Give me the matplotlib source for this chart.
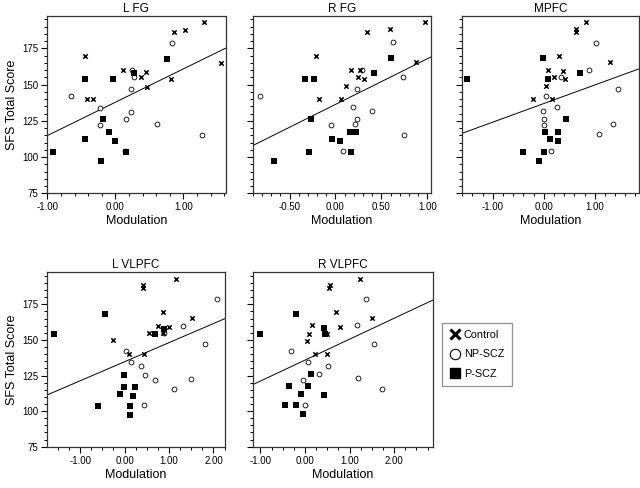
import matplotlib
matplotlib.use("Agg")
import matplotlib.pyplot as plt
from matplotlib.lines import Line2D
from matplotlib.ticker import MultipleLocator, FormatStrFormatter

plt.rcParams['font.family'] = ['Liberation Sans', 'DejaVu Sans']
plt.rcParams['axes.unicode_minus'] = False

TITLES = ["L FG", "R FG", "MPFC", "L VLPFC", "R VLPFC"]
GROUPS = ["Control", "NP-SCZ", "P-SCZ"]

# ---- L FG ----
LFG_ctrl_x = [1.30, 1.02, 0.86, -0.45, 0.12, 0.45, 0.38, 0.82, 0.46, -0.41, -0.33, 1.55]
LFG_ctrl_y = [193, 187.6, 186.3, 170, 160, 159, 155, 154, 148.6, 139.8, 139.8, 165]
LFG_np_x = [0.84, -0.65, 0.23, -0.22, -0.23, 0.16, 0.23, 0.61, 1.28, 0.14, 0.25, 0.28]
LFG_np_y = [178.9, 142.4, 147.2, 134.1, 121.9, 126.3, 130.9, 123, 115.2, 104.4, 160.2, 155]
LFG_p_x = [0.76, 0.27, -0.44, -0.035, -0.18, -0.09, -0.01, -0.45, 0.16, -0.91, -0.21]
LFG_p_y = [167.9, 158, 154.1, 154.1, 126, 117.1, 111.3, 112.2, 103.3, 103.3, 97.3]

# ---- R FG ----
RFG_ctrl_x = [0.345, 0.59, -0.215, 0.164, 0.27, 0.247, 0.316, 0.12, -0.18, 0.055, 0.88, 0.98]
RFG_ctrl_y = [186.3, 188.3, 170, 159.8, 160.3, 155, 154, 149.3, 140.3, 140.3, 165.6, 193]
RFG_np_x = [-0.825, 0.63, 0.73, 0.23, 0.19, 0.40, 0.23, 0.21, -0.044, 0.29, 0.084, 0.745]
RFG_np_y = [142.4, 179.4, 155, 147.2, 134.3, 131.6, 126.3, 123, 122.1, 160.3, 104.4, 115.2]
RFG_p_x = [0.607, 0.418, -0.335, -0.23, -0.27, 0.16, 0.225, -0.036, 0.05, -0.29, 0.17, -0.665]
RFG_p_y = [168.6, 158.2, 154.1, 154.1, 126.3, 117.3, 117.3, 112.2, 111.3, 103.3, 103.3, 97.3]

# ---- MPFC ----
MPFC_ctrl_x = [0.82, 0.64, 0.64, 0.30, 1.30, 0.085, 0.38, 0.197, 0.41, 0.052, -0.21, 0.164]
MPFC_ctrl_y = [193.2, 188.1, 186.5, 170, 165.6, 160, 159.6, 155, 154.1, 149.3, 140.3, 140.3]
MPFC_np_x = [1.02, 0.89, 0.34, 1.46, 0.052, 0.25, -0.013, 0.013, 0.013, 1.36, 1.09, 0.144]
MPFC_np_y = [178.9, 160, 155, 147.2, 142.4, 134.3, 131.6, 126.3, 122.1, 123, 115.7, 104.4]
MPFC_p_x = [-0.013, 0.71, 0.08, -1.51, 0.44, 0.033, 0.28, 0.118, 0.27, -0.40, 0.013, -0.085]
MPFC_p_y = [168.6, 158.2, 154.1, 154.1, 126.3, 117.3, 117.3, 112.7, 111.3, 103.7, 103.7, 97.3]

# ---- L VLPFC ----
LVL_ctrl_x = [1.15, 0.42, 0.42, 0.87, 1.52, 0.75, 1.01, 0.55, 0.87, -0.26, 0.09, 0.435]
LVL_ctrl_y = [193.1, 188.3, 186.4, 169.9, 165.2, 160.1, 159.2, 154.8, 154.8, 149.7, 140.1, 140.1]
LVL_np_x = [2.09, 1.31, 0.885, 1.80, 0.03, 0.135, 0.375, 0.45, 0.675, 1.49, 1.11, 0.435]
LVL_np_y = [178.5, 160.1, 155, 147.1, 142.4, 134.3, 131.5, 125.7, 122.2, 122.9, 115.2, 104.3]
LVL_p_x = [-1.59, -0.45, -0.59, -0.02, -0.02, -0.11, 0.23, 0.19, 0.12, 0.12, 0.675, 0.885]
LVL_p_y = [154.3, 168.5, 103.4, 125.7, 116.9, 112.2, 116.9, 110.8, 103.4, 97.3, 154.3, 157.8]

# ---- R VLPFC ----
RVL_ctrl_x = [1.23, 0.57, 0.545, 0.70, 1.50, 0.157, 0.78, 0.09, 0.50, 0.05, 0.216, 0.50]
RVL_ctrl_y = [192.9, 188.3, 186.2, 169.9, 165.2, 160.3, 159.2, 154.5, 154.3, 149.4, 140.1, 140.1]
RVL_np_x = [1.37, 1.16, 1.56, -0.31, 0.075, 0.51, 0.31, -0.04, 1.20, 1.72, 0.0]
RVL_np_y = [179, 160.3, 147.3, 142.4, 134.3, 131.5, 126.2, 122.2, 123.4, 115.2, 104.3]
RVL_p_x = [-0.20, -1.0, 0.425, 0.455, 0.127, -0.36, 0.075, -0.09, 0.42, -0.455, -0.20, -0.05]
RVL_p_y = [168.5, 154.3, 158.3, 154.3, 126.2, 117.6, 117.6, 112.2, 111.5, 104.1, 104.1, 98]

FIT_INTERCEPT = [137.8, 136.3, 136.9, 134.7, 135.8]
FIT_SLOPE = [23.0, 31.5, 12.8, 13.4, 14.7]

PANELS = [
    (LFG_ctrl_x, LFG_ctrl_y, LFG_np_x, LFG_np_y, LFG_p_x, LFG_p_y),
    (RFG_ctrl_x, RFG_ctrl_y, RFG_np_x, RFG_np_y, RFG_p_x, RFG_p_y),
    (MPFC_ctrl_x, MPFC_ctrl_y, MPFC_np_x, MPFC_np_y, MPFC_p_x, MPFC_p_y),
    (LVL_ctrl_x, LVL_ctrl_y, LVL_np_x, LVL_np_y, LVL_p_x, LVL_p_y),
    (RVL_ctrl_x, RVL_ctrl_y, RVL_np_x, RVL_np_y, RVL_p_x, RVL_p_y),
]

XLIMS = [(-1.0, 1.62), (-0.90, 1.04), (-1.60, 1.86), (-1.74, 2.26), (-1.17, 2.88)]
XMAJOR = [1.0, 0.5, 1.0, 1.0, 1.0]
XMINOR = [0.2, 0.1, 0.2, 0.25, 0.25]
YLIM = (75, 197.5)

W, H = 640, 488
# pixel boxes: left, top, right, bottom
BOXES = [
    (47.3, 15.7, 225.5, 193.3),
    (252.8, 15.7, 431.0, 193.3),
    (462.3, 15.7, 638.5, 193.3),
    (47.3, 272.3, 225.0, 446.7),
    (252.8, 272.3, 433.3, 446.7),
]

fig = plt.figure(figsize=(6.4, 4.88), dpi=100)

for i, (cx, cy, nx, ny, px, py) in enumerate(PANELS):
    l, t, r, b = BOXES[i]
    ax = fig.add_axes([l / W, 1 - b / H, (r - l) / W, (b - t) / H])
    ax.set_xlim(*XLIMS[i])
    ax.set_ylim(*YLIM)
    xs = list(XLIMS[i])
    ax.plot(xs, [FIT_INTERCEPT[i] + FIT_SLOPE[i] * x for x in xs], color='black', lw=0.7, zorder=1)
    ax.scatter(nx, ny, marker='o', s=12, facecolors='white', edgecolors='black', linewidths=0.6, zorder=2)
    ax.scatter(px, py, marker='s', s=14, c='black', linewidths=0, zorder=3)
    ax.scatter(cx, cy, marker='x', s=10, c='black', linewidths=1.1, zorder=4)

    ax.xaxis.set_major_locator(MultipleLocator(XMAJOR[i]))
    ax.xaxis.set_minor_locator(MultipleLocator(XMINOR[i]))
    ax.xaxis.set_major_formatter(FormatStrFormatter('%.2f'))
    ax.yaxis.set_major_locator(MultipleLocator(25))
    ax.yaxis.set_minor_locator(MultipleLocator(5))
    ax.tick_params(which='major', direction='out', length=4.5, width=0.8, labelsize=7, pad=2)
    ax.tick_params(which='minor', direction='out', length=2, width=0.7)
    ax.tick_params(top=False, right=False)
    for s in ax.spines.values():
        s.set_linewidth(0.9)
        s.set_color('#333333')
    ax.set_title(TITLES[i], fontsize=8.5, pad=3)
    ax.set_xlabel("Modulation", fontsize=9, labelpad=2)
    if i in (0, 3):
        ax.set_ylabel("SFS Total Score", fontsize=9, labelpad=3)
    else:
        ax.tick_params(labelleft=False)

handles = [
    Line2D([], [], marker='x', color='black', ls='', ms=7, mew=2.2),
    Line2D([], [], marker='o', color='black', ls='', ms=7.5, mfc='white', mew=0.8),
    Line2D([], [], marker='s', color='black', ls='', ms=7.5),
]
leg = fig.legend(handles, GROUPS, loc='upper left', bbox_to_anchor=(441.7 / W, 1 - 322.7 / H),
                 fontsize=7.8, frameon=True, fancybox=False, edgecolor='#777777',
                 handlelength=1.0, handletextpad=0.35, labelspacing=0.85, borderpad=0.7,
                 borderaxespad=0)
leg.get_frame().set_linewidth(0.9)

fig.savefig("out.png", dpi=100)
